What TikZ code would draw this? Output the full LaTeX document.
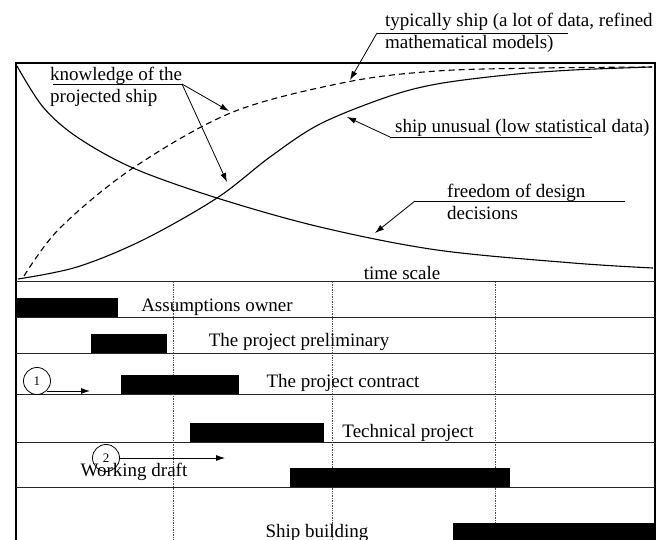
\documentclass[tikz,border=0pt]{standalone}
\usepackage{fontspec}
\setmainfont{Liberation Serif}
\usetikzlibrary{arrows.meta, positioning, calc}

\begin{document}
\begin{tikzpicture}[
        x=1pt, y=-1pt,
        >={Latex[length=9pt, width=6pt]},
        frame/.style={line width=1.6pt, black},
        rowline/.style={line width=0.8pt, black!85},
        grid/.style={densely dotted, line width=0.7pt, black!70},
        curve/.style={line width=1.1pt, black},
        dashcurve/.style={curve, dash pattern=on 6pt off 4pt},
        lead/.style={line width=0.8pt, black},
        arrow/.style={lead, ->},
        txt/.style={font=\fontsize{19}{22.5}\selectfont, inner sep=0pt, align=left},
        bar/.style={fill=black, draw=none, inner sep=0pt, minimum height=19pt, anchor=south west},
        numcirc/.style={circle, draw, line width=0.8pt, inner sep=0pt, minimum size=27pt, font=\fontsize{13}{13}\selectfont}
    ]
    \useasboundingbox (0,0) rectangle (670,540);

    % --- Frame and Rows ---
    \draw[frame] (16,541) -- (16,63) -- (655,63) -- (655,541);
    \foreach \yy in {281,317,353,394,442,487}
        \draw[rowline] (16,\yy) -- (655,\yy);
    \foreach \xx in {173,332,495}
        \draw[grid] (\xx,282) -- (\xx,540);

    % --- Curves ---
    \draw[curve] plot[smooth, tension=0.55] coordinates {(17,66) (43,107) (77,137) (133,168) (217,198) (320,227) (437,250) (573,263) (653,268)};
    \draw[dashcurve] plot[smooth, tension=0.55] coordinates {(24,276) (60,228) (133,168) (233,112) (347,82) (437,71) (540,68) (652,67)};
    \draw[curve] plot[smooth, tension=0.55] coordinates {(18,279) (77,267) (143,240) (217,198) (270,157) (320,124) (387,97) (437,84) (507,75) (573,70) (652,67)};

    % points on the curves
    \coordinate (dash_pt) at (229,111);
    \coordinate (rise_pt) at (227,182);
    \coordinate (typ_pt) at (350,80);
    \coordinate (unus_pt) at (347,117);
    \coordinate (free_pt) at (375,233);

    % --- Curve Labels ---
    \node[txt, anchor=west] (know) at (50,87) {knowledge of the\\projected ship};
    \node[txt, anchor=west] (typical) at (385,33) {typically ship (a lot of data, refined\\mathematical models)};
    \node[txt, anchor=west] (unusual) at (395,128) {ship unusual (low statistical data)};
    \node[txt, anchor=west] (freedom) at (447,202) {freedom of design\\decisions};
    \node[txt] (scale) at (402,273) {time scale};

    % underlines the leaders start from
    \coordinate (know_a) at (53,84);
    \coordinate (know_b) at (182,84);
    \coordinate (typ_a) at (377,33);
    \coordinate (typ_b) at (568,33);
    \coordinate (unus_a) at (390,137);
    \coordinate (unus_b) at (592,137);
    \coordinate (free_a) at (415,201);
    \coordinate (free_b) at (625,201);

    \draw[lead] (know_a) -- (know_b);
    \draw[arrow] (know_b) -- (dash_pt);
    \draw[arrow] (know_b) -- (rise_pt);
    \draw[lead] (typ_b) -- (typ_a);
    \draw[arrow] (typ_a) -- (typ_pt);
    \draw[lead] (unus_b) -- (unus_a);
    \draw[arrow] (unus_a) -- (unus_pt);
    \draw[lead] (free_b) -- (free_a);
    \draw[arrow] (free_a) -- (free_pt);

    % --- Gantt Bars ---
    \node[bar, minimum width=102pt] (owner) at (16,317) {};
    \node[bar, minimum width=76pt] (prelim) at (91,353) {};
    \node[bar, minimum width=118pt] (contract) at (121,394) {};
    \node[bar, minimum width=134pt] (technical) at (190,442) {};
    \node[bar, minimum width=220pt] (draft) at (290,487) {};
    \node[bar, minimum width=202pt, minimum height=18pt] (building) at (453,541) {};

    % --- Gantt Labels ---
    \node[txt] (owner_t) at (217,307) {Assumptions owner};
    \node[txt] (prelim_t) at (299,342) {The project preliminary};
    \node[txt] (contract_t) at (343,383) {The project contract};
    \node[txt] (technical_t) at (408,433) {Technical project};
    \node[txt] (draft_t) at (134,472) {Working draft};
    \node[txt] (building_t) at (317,533) {Ship building};

    % --- Markers ---
    \node[numcirc] (one) at (37,381) {1};
    \node[numcirc] (two) at (106,458) {2};
    \coordinate (one_end) at (90,391);
    \coordinate (two_end) at (225,458);
    \draw[arrow] (one.south east |- one_end) -- (one_end);
    \draw[arrow] (two.east) -- (two_end);

\end{tikzpicture}
\end{document}
